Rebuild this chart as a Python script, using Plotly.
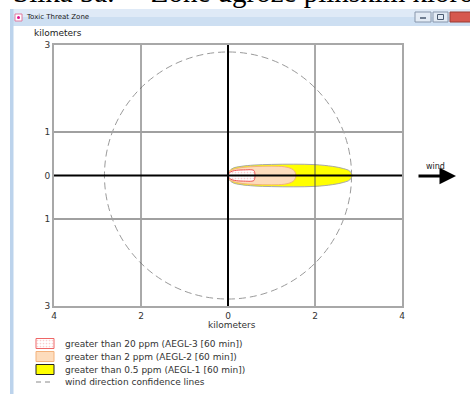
import plotly.graph_objects as go

W, H = 470, 394

# ---------------- data (km) ----------------
x_ticks = [-4, -2, 0, 2, 4]
x_ticklabels = ["4", "2", "0", "2", "4"]
y_ticks = [-3, -1, 0, 1, 3]
y_ticklabels = ["3", "1", "0", "1", "3"]

# footprint outlines: downwind distance and half-width (km)
yellow_x = [0.0, 0.03, 0.12, 0.3, 0.6, 1.0, 1.5, 2.0, 2.4, 2.65, 2.8, 2.85]
yellow_hw = [0.0, 0.10, 0.17, 0.21, 0.24, 0.255, 0.26, 0.25, 0.21, 0.16, 0.10, 0.0]
orange_x = [0.0, 0.03, 0.12, 0.3, 0.6, 1.0, 1.3, 1.45, 1.53, 1.56]
orange_hw = [0.0, 0.09, 0.14, 0.18, 0.205, 0.215, 0.20, 0.16, 0.10, 0.0]
red_x = [0.0, 0.03, 0.1, 0.2, 0.4, 0.55, 0.60, 0.62]
red_hw = [0.0, 0.06, 0.10, 0.12, 0.13, 0.13, 0.11, 0.0]
confidence_radius = 2.84

legend_labels = [
    "greater than 20 ppm (AEGL-3 [60 min])",
    "greater than 2 ppm (AEGL-2 [60 min])",
    "greater than 0.5 ppm (AEGL-1 [60 min])",
    "wind direction confidence lines",
]

# ---------------- layout geometry (px) ----------------
PL, PR, PT, PB = 54, 402, 45, 306
RED_PATTERN = dict(shape=".", fgcolor="#f4a0a0", bgcolor="#ffffff", size=3, solidity=0.25)


def px(xp):
    return xp / W


def py(yp):
    return 1 - yp / H


def outline(xs, hw):
    ox = list(xs) + list(reversed(xs))[1:]
    oy = list(hw) + [-v for v in reversed(hw)][1:]
    return ox, oy


fig = go.Figure()

# footprints
yx, yy = outline(yellow_x, yellow_hw)
fig.add_trace(go.Scatter(x=yx, y=yy, fill="toself", fillcolor="#ffff00",
                         line=dict(color="#a8a8a8", width=1, shape="spline"),
                         mode="lines", hoverinfo="skip", showlegend=False))
ox, oy = outline(orange_x, orange_hw)
fig.add_trace(go.Scatter(x=ox, y=oy, fill="toself", fillcolor="#fddcbc",
                         line=dict(color="#f3b27c", width=1, shape="spline"),
                         mode="lines", hoverinfo="skip", showlegend=False))
rx, ry = outline(red_x, red_hw)
fig.add_trace(go.Scatter(x=rx, y=ry, fill="toself", fillcolor="white",
                         fillpattern=RED_PATTERN,
                         line=dict(color="#ee5555", width=1, shape="spline"),
                         mode="lines", hoverinfo="skip", showlegend=False))

shapes = []
# confidence circle
shapes.append(dict(type="circle", xref="x", yref="y", x0=-confidence_radius, x1=confidence_radius,
                   y0=-confidence_radius, y1=confidence_radius,
                   line=dict(color="#9a9a9a", width=1, dash="7px,4px"), layer="between"))
# grid lines (above fills)
for v in x_ticks:
    if v not in (0, x_ticks[0], x_ticks[-1]):
        shapes.append(dict(type="line", xref="x", yref="y", x0=v, x1=v, y0=y_ticks[0], y1=y_ticks[-1],
                           line=dict(color="#555555", width=1), layer="above"))
for v in y_ticks:
    if v not in (0, y_ticks[0], y_ticks[-1]):
        shapes.append(dict(type="line", xref="x", yref="y", x0=x_ticks[0], x1=x_ticks[-1], y0=v, y1=v,
                           line=dict(color="#a0a0a0", width=2), layer="above"))
# axes through origin
shapes.append(dict(type="line", xref="x", yref="y", x0=x_ticks[0], x1=x_ticks[-1], y0=0, y1=0,
                   line=dict(color="#000000", width=2), layer="above"))
shapes.append(dict(type="line", xref="x", yref="y", x0=0, x1=0, y0=y_ticks[0], y1=y_ticks[-1],
                   line=dict(color="#000000", width=2), layer="above"))

# window chrome
shapes.append(dict(type="rect", xref="paper", yref="paper", x0=px(12), x1=px(470), y0=py(9), y1=py(17),
                   fillcolor="#dfeaf7", line=dict(width=0), layer="below"))
shapes.append(dict(type="rect", xref="paper", yref="paper", x0=px(12), x1=px(470), y0=py(17), y1=py(26),
                   fillcolor="#cddff2", line=dict(width=0), layer="below"))
shapes.append(dict(type="rect", xref="paper", yref="paper", x0=px(10), x1=px(13.5), y0=py(9), y1=py(394),
                   fillcolor="#bcd3ec", line=dict(width=0), layer="below"))
# icon
shapes.append(dict(type="rect", xref="paper", yref="paper", x0=px(15), x1=px(22), y0=py(14), y1=py(21),
                   fillcolor="#ffffff", line=dict(color="#e07aa0", width=1), layer="below"))
shapes.append(dict(type="circle", xref="paper", yref="paper", x0=px(17), x1=px(20), y0=py(16), y1=py(19),
                   fillcolor="#e0108a", line=dict(width=0), layer="below"))
# buttons
for (a, b, fc, lc) in [(415, 431, "#e3ebf5", "#8796ab"), (433, 448, "#e3ebf5", "#8796ab"),
                       (450, 471, "#d6584f", "#9a3a33")]:
    shapes.append(dict(type="rect", xref="paper", yref="paper", x0=px(a), x1=px(b), y0=py(12), y1=py(22),
                       fillcolor=fc, line=dict(color=lc, width=1), layer="below"))
shapes.append(dict(type="line", xref="paper", yref="paper", x0=px(420), x1=px(426), y0=py(18), y1=py(18),
                   line=dict(color="#4a5a70", width=1.5), layer="below"))
shapes.append(dict(type="rect", xref="paper", yref="paper", x0=px(437.5), x1=px(443.5), y0=py(14.5), y1=py(19.5),
                   fillcolor="rgba(0,0,0,0)", line=dict(color="#4a5a70", width=1), layer="below"))

# legend swatches (pixel-space overlay axes x2/y2)
LX0, LX1 = 36, 54
leg_y = [343.5, 356.5, 369.5, 382]
sw_styles = [
    dict(fill="white", line="#ee6666", pattern=True),
    dict(fill="#fddcbc", line="#f3b27c", pattern=False),
    dict(fill="#ffff00", line="#222222", pattern=False),
]
for i, st in enumerate(sw_styles):
    yc = leg_y[i]
    xs = [LX0, LX1, LX1, LX0, LX0]
    ys = [yc - 5, yc - 5, yc + 5, yc + 5, yc - 5]
    kw = {}
    if st["pattern"]:
        kw["fillpattern"] = RED_PATTERN
    fig.add_trace(go.Scatter(x=xs, y=ys, xaxis="x2", yaxis="y2", fill="toself",
                             fillcolor=st["fill"], mode="lines",
                             line=dict(color=st["line"], width=1),
                             hoverinfo="skip", showlegend=False, **kw))
shapes.append(dict(type="line", xref="paper", yref="paper", x0=px(LX0), x1=px(LX1),
                   y0=py(leg_y[3]), y1=py(leg_y[3]),
                   line=dict(color="#8a8a8a", width=1, dash="5px,4px")))

annotations = []
for i, lab in enumerate(legend_labels):
    annotations.append(dict(text=lab, xref="paper", yref="paper", x=px(63), y=py(leg_y[i]),
                            xanchor="left", yanchor="middle", showarrow=False,
                            font=dict(family="DejaVu Sans", size=9, color="#333333")))

annotations += [
    dict(text="kilometers", xref="paper", yref="paper", x=px(32), y=py(33), xanchor="left", yanchor="middle",
         showarrow=False, font=dict(family="DejaVu Sans", size=9, color="#222222")),
    dict(text="kilometers", xref="paper", yref="paper", x=px(232), y=py(325), xanchor="center",
         yanchor="middle", showarrow=False, font=dict(family="DejaVu Sans", size=9, color="#333333")),
    dict(text="Toxic Threat Zone", xref="paper", yref="paper", x=px(24), y=py(17.5), xanchor="left",
         yanchor="middle", showarrow=False, font=dict(family="DejaVu Sans", size=7, color="#222222")),
    dict(text="Slika 5a.\u00a0\u00a0\u00a0\u00a0\u00a0Zone ugroze plinskim klorom", xref="paper", yref="paper",
         x=px(11), y=py(10), xanchor="left", yanchor="bottom", showarrow=False,
         font=dict(family="Liberation Serif", size=29, color="#000000")),
    dict(text="wind", xref="paper", yref="paper", x=px(435), y=py(166), xanchor="center", yanchor="middle",
         showarrow=False, font=dict(family="DejaVu Sans", size=8, color="#222222")),
    dict(text="", xref="paper", yref="paper", x=px(456), y=py(176), ax=-39, ay=0,
         showarrow=True, arrowhead=2, arrowsize=1.1, arrowwidth=3, arrowcolor="#000000"),
]

fig.update_layout(
    width=W, height=H,
    margin=dict(l=0, r=0, t=0, b=0, autoexpand=False),
    paper_bgcolor="white", plot_bgcolor="rgba(0,0,0,0)",
    showlegend=False,
    xaxis=dict(domain=[px(PL), px(PR)], range=[x_ticks[0], x_ticks[-1]], tickvals=x_ticks,
               ticktext=x_ticklabels, showgrid=False, zeroline=False, showline=True, mirror=True,
               linecolor="#a8a8a8", linewidth=2, ticks="", tickfont=dict(family="DejaVu Sans", size=9,
                                                                           color="#333333"),
               fixedrange=True),
    yaxis=dict(domain=[py(PB), py(PT)], range=[y_ticks[0], y_ticks[-1]], tickvals=y_ticks,
               ticktext=y_ticklabels, showgrid=False, zeroline=False, showline=True, mirror=True,
               linecolor="#a8a8a8", linewidth=2, ticks="", tickfont=dict(family="DejaVu Sans", size=9,
                                                                           color="#333333"),
               fixedrange=True),
    xaxis2=dict(domain=[0, 1], range=[0, W], visible=False, anchor="y2", fixedrange=True),
    yaxis2=dict(domain=[0, 1], range=[H, 0], visible=False, anchor="x2", fixedrange=True),
    shapes=shapes,
    annotations=annotations,
)

fig.write_html("out.html", config={"displayModeBar": False},
               post_script="document.body.style.margin='0';document.body.style.padding='0';"
                           "document.body.style.overflow='hidden';")
